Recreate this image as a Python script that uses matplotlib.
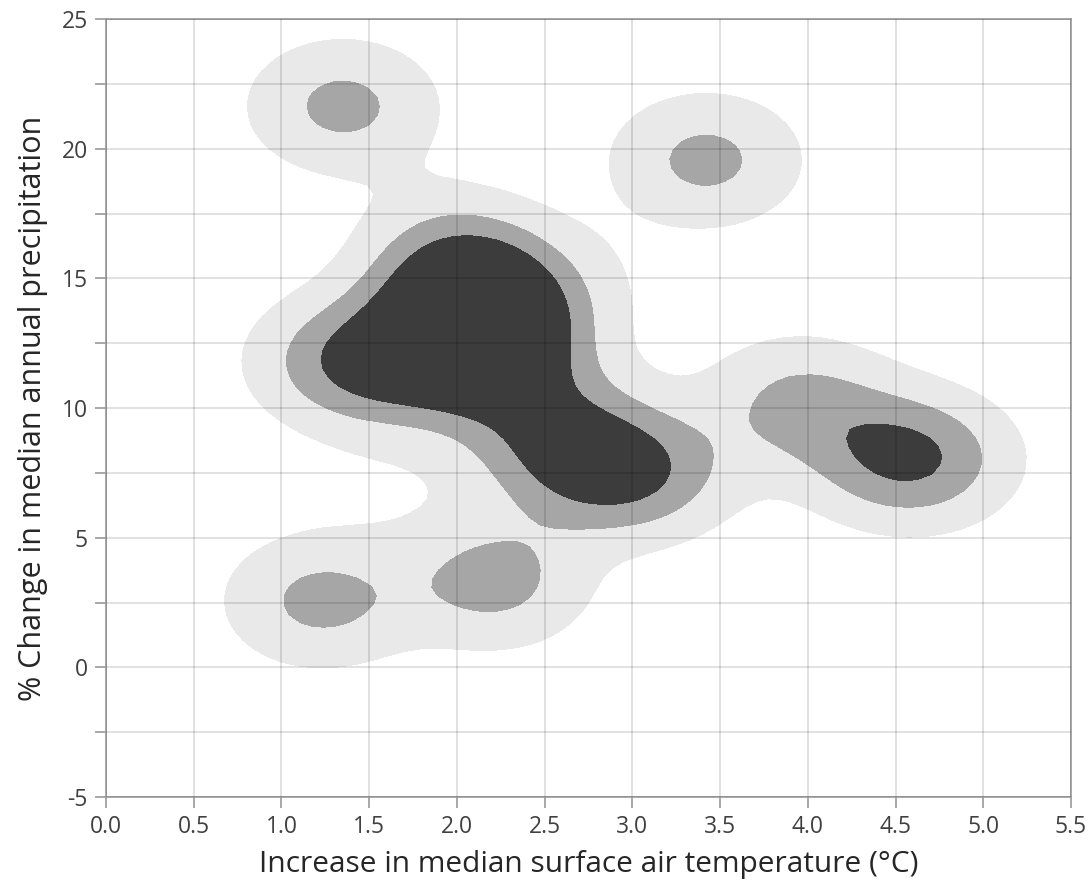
import numpy as np
import matplotlib
matplotlib.use("Agg")
import matplotlib.pyplot as plt

# model results: warming (°C), precipitation change (%), weight
temp_change = [1.35, 1.68, 2.05, 2.12, 2.15, 2.20, 1.90, 2.50, 2.70, 3.00, 3.20,
               2.72, 1.60, 3.95, 4.48, 4.68, 1.35, 3.42, 1.22, 2.21]
precip_change = [11.8, 11.7, 15.2, 13.9, 12.6, 11.8, 17.0, 9.4, 7.9, 7.5, 7.4,
                 14.8, 7.2, 10.2, 8.1, 8.0, 21.64, 19.56, 2.56, 3.33]
weights = [1.02, 0.75, 1.05, 1.25, 1.15, 0.75, 0.25, 0.8, 0.85, 0.9, 0.25,
           0.2, 0.15, 0.95, 0.8, 0.8, 1.0, 1.0, 1.0, 1.05]

bandwidth = (0.36, 1.7)
levels = [0.32, 0.85, 1.4, 100]
fill_colors = ["#e9e9e9", "#a6a6a6", "#3c3c3c"]

x_ticks = np.arange(0, 5.51, 0.5)
y_ticks = np.arange(-5, 25.1, 2.5)
y_labels = ["-5", "", "0", "", "5", "", "10", "", "15", "", "20", "", "25"]

plt.rcParams["font.family"] = ["Open Sans", "DejaVu Sans"]

fig = plt.figure(figsize=(10.91, 8.92), dpi=100)
ax = fig.add_axes([0.0972, 0.1065, 0.8845, 0.8722])

# smoothed density of the model results
gx = np.linspace(0, 5.5, 90)
gy = np.linspace(-5, 25, 90)
X, Y = np.meshgrid(gx, gy)
density = np.zeros_like(X)
for px, py, w in zip(temp_change, precip_change, weights):
    density += w * np.exp(-0.5 * ((X - px) / bandwidth[0]) ** 2
                          - 0.5 * ((Y - py) / bandwidth[1]) ** 2)

ax.contourf(X, Y, density, levels=levels, colors=fill_colors, zorder=1)

ax.set_xlim(0, 5.5)
ax.set_ylim(-5, 25)
ax.set_xticks(x_ticks)
ax.set_xticklabels([f"{v:.1f}" for v in x_ticks])
ax.set_yticks(y_ticks)
ax.set_yticklabels(y_labels)
ax.grid(True, color="black", alpha=0.13, linewidth=1.3, zorder=3)
ax.set_axisbelow(False)

for s in ax.spines.values():
    s.set_color("#a0a0a0")
    s.set_linewidth(1.3)
ax.tick_params(axis="both", direction="out", length=8, width=1.3, color="#a0a0a0",
               labelsize=16.5, labelcolor="#404040", pad=5)

ax.set_xlabel("Increase in median surface air temperature (°C)", fontsize=21.5,
              color="#262626", labelpad=8)
ax.set_ylabel("% Change in median annual precipitation", fontsize=22,
              color="#262626", labelpad=10)

fig.savefig("out.png", dpi=100)
